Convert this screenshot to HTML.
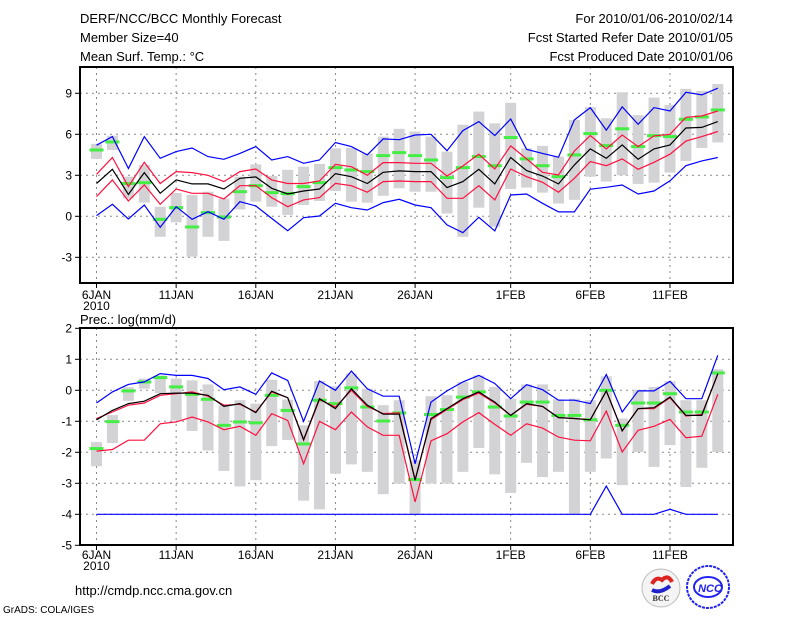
<!DOCTYPE html>
<html><head><meta charset="utf-8"><style>
html,body{margin:0;padding:0;background:#fff;}
svg{display:block;font-family:"Liberation Sans",sans-serif;}
</style></head><body>
<svg id="chart" width="800" height="618" viewBox="0 0 800 618">
<g font-size="13" fill="#000">
<text x="80" y="23">DERF/NCC/BCC Monthly Forecast</text>
<text x="80" y="42">Member Size=40</text>
<text x="80" y="61">Mean Surf. Temp.: °C</text>
<text x="733" y="23" text-anchor="end">For 2010/01/06-2010/02/14</text>
<text x="733" y="42" text-anchor="end">Fcst Started Refer Date 2010/01/05</text>
<text x="733" y="61" text-anchor="end">Fcst Produced Date 2010/01/06</text>
<text x="80" y="324">Prec.: log(mm/d)</text>
<text x="75" y="595">http://cmdp.ncc.cma.gov.cn</text>
<text x="3" y="613" font-size="10">GrADS: COLA/IGES</text>
</g>
<g id="top"></g>
<g id="bot"></g>
<g>
<circle cx="661" cy="588" r="19" fill="#f4f4f4" stroke="#bbb"/>
<path d="M652 584 q4 -8 10 -4 q6 -6 10 2" stroke="#d22" stroke-width="4" fill="none"/>
<path d="M652 590 q8 4 18 -4" stroke="#22c" stroke-width="4" fill="none"/>
<text x="661" y="601" font-size="8" font-weight="bold" text-anchor="middle" fill="#333" font-family="Liberation Serif,serif">BCC</text>
<circle cx="708" cy="587" r="21" fill="#fff" stroke="#22e" stroke-width="2" stroke-dasharray="3,1"/>
<ellipse cx="708" cy="587" rx="14" ry="10" fill="none" stroke="#22e" stroke-width="2"/>
<text x="710" y="592" font-size="11" font-weight="bold" font-style="italic" text-anchor="middle" fill="#22e">NCC</text>
</g>
</svg>
<script>
// ---- data ----
const days = ["6JAN","11JAN","16JAN","21JAN","26JAN","1FEB","6FEB","11FEB"];
const dayIndex = [0,5,10,15,20,26,31,36];
const tBlueHi = [5.2,5.83,3.5,5.83,4.24,4.73,5.0,4.37,4.17,4.6,5.1,4.12,4.37,3.88,4.12,5.4,5.1,4.49,5.66,5.6,5.95,6.0,4.8,6.27,6.93,5.9,7.12,4.9,4.6,4.32,7.05,7.95,6.3,8.0,6.73,7.95,7.7,9.07,8.88,9.37];
const tRedHi = [3.07,4.3,2.17,3.95,2.4,3.27,3.2,3.0,2.54,3.27,3.46,2.66,2.4,2.4,2.58,3.8,3.63,3.0,3.93,3.93,3.88,3.88,2.95,3.68,4.54,3.46,5.15,4.2,3.22,3.02,4.78,5.9,4.93,5.95,5.1,5.88,6.0,7.24,7.34,7.7];
const tMean = [2.4,3.44,1.6,3.2,1.68,2.66,2.37,2.37,2.0,2.78,2.88,2.05,1.63,1.85,2.0,3.12,2.9,2.4,3.22,3.32,3.27,3.27,2.1,2.54,3.44,2.37,4.3,3.34,2.95,2.37,3.76,4.93,4.24,5.22,4.17,4.93,5.22,6.46,6.5,6.93];
const tRedLo = [1.44,2.66,1.12,2.3,0.88,2.0,1.68,1.68,1.27,2.24,2.24,1.37,0.7,1.2,1.37,2.41,2.24,1.76,2.54,2.58,2.54,2.54,1.32,1.32,2.24,1.2,3.46,2.9,2.49,1.76,2.78,4.0,3.7,4.2,3.44,3.95,4.54,5.5,5.83,6.2];
const tBlueLo = [0.05,0.88,-0.2,0.83,-0.8,0.7,-0.22,0.34,-0.22,1.07,0.76,-0.15,-1.05,-0.1,0.02,0.95,0.63,0.46,1.0,1.24,0.83,0.63,-0.63,-1.2,-0.07,-1.07,1.56,1.63,0.95,0.32,0.32,1.98,2.12,2.29,1.63,1.85,2.6,3.7,4.05,4.3];
const tGreen = [4.85,5.44,2.4,2.46,-0.22,0.63,-0.78,0.27,-0.05,1.8,2.24,1.73,1.66,2.17,2.46,3.56,3.39,3.27,4.44,4.66,4.44,4.12,2.83,3.56,4.37,3.7,5.76,4.2,3.7,2.9,4.49,6.05,5.17,6.4,5.1,5.9,5.83,7.1,7.27,7.78];
const tMax = [5.3,5.9,2.9,3.75,0.7,1.7,1.56,1.8,1.3,2.9,3.8,2.95,3.4,3.63,3.83,4.97,5.0,4.6,5.83,6.4,6.2,5.83,4.73,6.7,7.66,6.8,8.3,4.97,5.15,4.37,7.05,7.98,7.17,9.07,7.4,8.68,8.15,9.32,9.17,9.68];
const tMin = [4.2,4.85,1.3,1.0,-1.5,-0.44,-2.95,-1.5,-1.8,0.5,1.07,0.7,0.1,0.83,1.12,1.85,1.07,1.0,1.5,2.05,1.8,1.8,0.2,-1.5,0.63,-0.76,2.0,2.1,1.73,0.93,1.2,2.9,2.54,3.0,2.37,2.46,3.2,4.05,5.0,5.4];
const tTicks = [9,6,3,0,-3];

const pBlueHi = [-0.41,-0.05,0.19,0.27,0.54,0.48,0.48,0.38,0.02,0.11,-0.13,0.56,0.32,-1.0,0.3,0,0.62,0.05,-0.19,-0.19,-2.37,-0.38,-0.02,0.27,0.48,0.22,-0.27,0.18,0.02,-0.32,-0.32,-0.43,0.51,-0.7,-0.02,-0.02,0.29,-0.27,-0.27,1.13];
const pRedHi = [-0.91,-0.7,-0.48,-0.41,-0.16,-0.11,-0.05,-0.19,-0.48,-0.45,-0.7,-0.05,-0.24,-1.61,-0.3,-0.54,0,-0.52,-0.75,-0.73,-2.88,-0.95,-0.62,-0.3,-0.09,-0.41,-0.81,-0.45,-0.52,-0.88,-0.91,-0.95,-0.02,-1.31,-0.59,-0.59,-0.24,-0.83,-0.78,0.52];
const pMean = [-0.95,-0.65,-0.43,-0.35,-0.11,-0.09,-0.09,-0.16,-0.52,-0.43,-0.72,-0.03,-0.24,-1.59,-0.27,-0.59,0.05,-0.48,-0.77,-0.77,-2.9,-0.91,-0.59,-0.27,-0.05,-0.38,-0.81,-0.43,-0.52,-0.88,-0.91,-0.95,-0.02,-1.31,-0.59,-0.56,-0.22,-0.81,-0.81,0.54];
const pRedLo = [-1.96,-1.91,-1.61,-1.61,-1.08,-1.02,-0.86,-1.02,-1.27,-1.16,-1.45,-0.75,-0.97,-2.37,-1.0,-1.27,-0.7,-1.18,-1.45,-1.45,-3.6,-1.63,-1.4,-1.02,-0.72,-1.1,-1.45,-1.08,-1.22,-1.51,-1.61,-1.63,-0.67,-1.99,-1.29,-1.16,-0.94,-1.53,-1.48,-0.13];
const pBlueLo = [-4,-4,-4,-4,-4,-4,-4,-4,-4,-4,-4,-4,-4,-4,-4,-4,-4,-4,-4,-4,-4,-4,-4,-4,-4,-4,-4,-4,-4,-4,-4,-4,-3.09,-4,-4,-4,-3.84,-4,-4,-4];
const pGreen = [-1.88,-1.01,-0.02,0.27,0.41,0.11,-0.13,-0.29,-1.13,-1.02,-1.05,-0.16,-0.65,-1.73,-0.32,-0.43,0.08,-0.54,-0.99,-0.73,-2.88,-0.78,-0.62,-0.22,-0.05,-0.54,-0.83,-0.38,-0.38,-0.81,-0.81,-0.95,0,-1.13,-0.41,-0.41,-0.11,-0.7,-0.7,0.56];
const pMax = [-1.67,-0.8,0.1,0.38,0.48,0.38,0.32,0.19,-0.48,-0.32,-0.43,0.34,-0.3,-1.13,0.3,0.13,0.54,0.05,-0.48,-0.32,-2.26,-0.19,-0.16,0.27,0.48,0.11,-0.27,0.19,0.19,-0.29,-0.27,-0.32,0.45,-0.91,0.02,0.11,0.29,-0.32,-0.32,0.68];
const pMin = [-2.45,-1.7,-0.34,0.05,-0.09,-0.97,-1.31,-1.94,-2.6,-3.1,-2.9,-1.8,-1.6,-3.56,-3.84,-2.69,-2.39,-2.63,-3.35,-3.01,-3.98,-3.01,-3.01,-2.63,-1.86,-2.71,-3.31,-2.34,-2.8,-2.63,-4.0,-2.63,-2.2,-3.06,-1.99,-2.47,-1.77,-3.12,-2.5,-1.99];
const pTicks = [2,1,0,-1,-2,-3,-4,-5];

// ---- drawing ----
const NS = "http://www.w3.org/2000/svg";
const X0 = 80, X1 = 733;
function xOf(d){ return 96.5 + 15.93*d; }
function mk(tag, attrs, parent){ const e = document.createElementNS(NS, tag); for (const k in attrs) e.setAttribute(k, attrs[k]); parent.appendChild(e); return e; }

function panel(g, yOf, top, bot, ticks, series, green, mx, mn, labelY, pfx){
  dayIndex.forEach((d,i)=>{
    const l = mk('line',{x1:xOf(d),x2:xOf(d),y1:top,y2:bot,stroke:'#888','stroke-dasharray':'2,4','stroke-width':1},g);
    
    
    const t = mk('text',{x:xOf(d),y:labelY,'text-anchor':'middle','font-size':12},g);
    t.textContent = days[i];
    
    
    mk('line',{x1:xOf(d),x2:xOf(d),y1:bot,y2:bot+5,stroke:'#000'},g);
  });
  const yr = mk('text',{x:xOf(0),y:labelY+11,'text-anchor':'middle','font-size':12},g);
  yr.textContent = '2010';
  
  
  ticks.forEach(v=>{
    const y = yOf(v);
    if (y>top+2 && y<bot-2){
      const l = mk('line',{x1:X0,x2:X1,y1:y,y2:y,stroke:'#888','stroke-dasharray':'2,4'},g);
      
      
    }
    mk('line',{x1:X0-5,x2:X0,y1:y,y2:y,stroke:'#000'},g);
    const t = mk('text',{x:X0-8,y:y+4,'text-anchor':'end','font-size':12},g);
    t.textContent = v;
    
    
  });
  mx.forEach((v,d)=>{
    const y1 = yOf(v), y2 = yOf(mn[d]);
    const r = mk('rect',{x:xOf(d)-5.5,y:y1,width:11,height:Math.max(1,y2-y1),fill:'#d3d3d6'},g);
    
    
  });
  green.forEach((v,d)=>{
    const r = mk('rect',{x:xOf(d)-7,y:yOf(v)-1.5,width:14,height:3,fill:'#44ee44'},g);
    
    
  });
  series.forEach(s=>{
    const pts = s.data.map((v,d)=>xOf(d).toFixed(1)+','+yOf(v).toFixed(1)).join(' ');
    const p = mk('polyline',{points:pts,fill:'none',stroke:s.color,'stroke-width':1.2},g);
    
    
  });
  const b = mk('rect',{x:X0,y:top,width:X1-X0,height:bot-top,fill:'none',stroke:'#000','stroke-width':2},g);
  
  
}

panel(document.getElementById('top'), v=>216.3-13.67*v, 67, 283, tTicks,
  [{name:'upper-blue-line',color:'#0000ff',data:tBlueHi},{name:'upper-red-line',color:'#ff1040',data:tRedHi},
   {name:'mean-line',color:'#000',data:tMean},{name:'lower-red-line',color:'#ff1040',data:tRedLo},
   {name:'lower-blue-line',color:'#0000ff',data:tBlueLo}], tGreen, tMax, tMin, 299, 'temp');

panel(document.getElementById('bot'), v=>390.3-31*v, 328, 545, pTicks,
  [{name:'upper-blue-line',color:'#0000ff',data:pBlueHi},{name:'lower-blue-line',color:'#0000ff',data:pBlueLo},
   {name:'upper-red-line',color:'#ff1040',data:pRedHi},{name:'mean-line',color:'#000',data:pMean},
   {name:'lower-red-line',color:'#ff1040',data:pRedLo}], pGreen, pMax, pMin, 559, 'prec');
</script>
</body></html>
